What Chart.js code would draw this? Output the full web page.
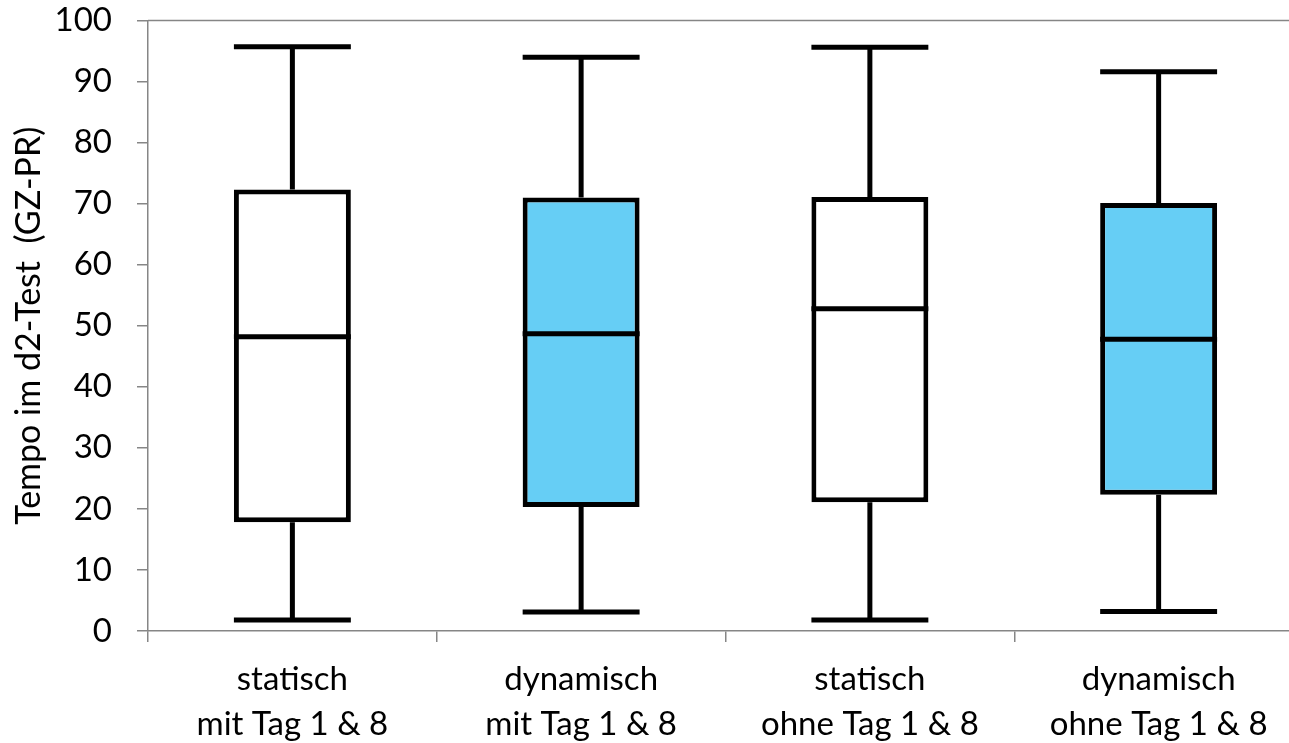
<!DOCTYPE html>
<html>
<head>
<meta charset="utf-8">
<script src="https://cdn.jsdelivr.net/npm/chart.js@4.4.1/dist/chart.umd.min.js"></script>
<style>
  html, body { margin: 0; padding: 0; background: #fff; overflow: hidden; }
  #wrap { position: relative; width: 1310px; height: 743px; }
</style>
</head>
<body>
<div id="wrap"><canvas id="grafico"></canvas></div>
<script>
// Daten
var kategorien = [
    ['statisch', 'mit Tag 1 & 8'],
    ['dynamisch', 'mit Tag 1 & 8'],
    ['statisch', 'ohne Tag 1 & 8'],
    ['dynamisch', 'ohne Tag 1 & 8']
];
var minimum = [1.8, 3.1, 1.8, 3.2];
var quartil1 = [17.8, 20.3, 21.1, 22.3];
var median = [48.2, 48.7, 52.8, 47.8];
var quartil3 = [72.3, 71.0, 71.1, 70.1];
var maximum = [95.7, 94.0, 95.6, 91.6];
var farben = ['#FFFFFF', '#66CEF5', '#FFFFFF', '#66CEF5'];
var yMin = 0, yMax = 100, yStep = 10;

var schrift = "Lato, 'Open Sans', sans-serif";
var achsenFarbe = '#868686';
var linie = 5;

// Whisker, Median und Rahmen zeichnen
var boxplotPlugin = {
    id: 'boxplot',
    afterDatasetsDraw: function(chart) {
        var ctx = chart.ctx;
        var x = chart.scales.x;
        var y = chart.scales.y;
        var meta = chart.getDatasetMeta(0);
        ctx.save();
        ctx.strokeStyle = '#000';
        ctx.lineWidth = linie;
        ctx.lineCap = 'butt';
        for (var i = 0; i < kategorien.length; i++) {
            var cx = x.getPixelForValue(i);
            var halb = meta.data[i].width / 2;
            ctx.beginPath();
            // oberer Whisker
            ctx.moveTo(cx, y.getPixelForValue(quartil3[i]));
            ctx.lineTo(cx, y.getPixelForValue(maximum[i]));
            ctx.moveTo(cx - halb, y.getPixelForValue(maximum[i]));
            ctx.lineTo(cx + halb, y.getPixelForValue(maximum[i]));
            // unterer Whisker
            ctx.moveTo(cx, y.getPixelForValue(quartil1[i]));
            ctx.lineTo(cx, y.getPixelForValue(minimum[i]));
            ctx.moveTo(cx - halb, y.getPixelForValue(minimum[i]));
            ctx.lineTo(cx + halb, y.getPixelForValue(minimum[i]));
            // Median
            ctx.moveTo(cx - halb, y.getPixelForValue(median[i]));
            ctx.lineTo(cx + halb, y.getPixelForValue(median[i]));
            ctx.stroke();
        }
        // oberer Rahmen der Zeichenfläche
        var ca = chart.chartArea;
        ctx.strokeStyle = achsenFarbe;
        ctx.lineWidth = 1.5;
        ctx.beginPath();
        ctx.moveTo(ca.left, ca.top);
        ctx.lineTo(ca.right, ca.top);
        ctx.stroke();
        ctx.restore();
    }
};

var ctx = document.getElementById('grafico').getContext('2d');
var myChart = new Chart(ctx, {
    type: 'bar',
    data: {
        labels: kategorien,
        datasets: [{
            label: 'Box',
            data: quartil1.map(function(q, i) { return [q, quartil3[i]]; }),
            backgroundColor: farben,
            borderColor: '#000',
            borderWidth: linie,
            borderSkipped: false,
            categoryPercentage: 1,
            barPercentage: 0.405
        }]
    },
    options: {
        responsive: true,
        maintainAspectRatio: false,
        animation: false,
        layout: { padding: { top: 0, right: 7, left: 0, bottom: 0 } },
        plugins: {
            legend: { display: false },
            tooltip: { enabled: false }
        },
        scales: {
            x: {
                offset: true,
                grid: {
                    offset: true,
                    drawOnChartArea: false,
                    drawTicks: true,
                    tickLength: 11,
                    color: achsenFarbe,
                    lineWidth: 1.5
                },
                border: { display: true, color: achsenFarbe, width: 1.5 },
                ticks: {
                    color: '#000',
                    padding: 15,
                    maxRotation: 0,
                    font: { family: schrift, size: 33, lineHeight: 1.36 }
                },
                afterFit: function(scale) {
                    scale.height = 112;
                    scale.paddingLeft = 0;
                    scale.paddingRight = 0;
                }
            },
            y: {
                min: yMin,
                max: yMax,
                ticks: {
                    stepSize: yStep,
                    color: '#000',
                    padding: 25,
                    font: { family: schrift, size: 33 }
                },
                grid: {
                    drawOnChartArea: false,
                    drawTicks: true,
                    tickLength: 11,
                    color: achsenFarbe,
                    lineWidth: 1.5
                },
                border: { display: true, color: achsenFarbe, width: 1.5 },
                title: {
                    display: true,
                    text: 'Tempo im d2-Test  (GZ-PR)',
                    color: '#000',
                    padding: { top: 9, bottom: 0 },
                    font: { family: schrift, size: 34 }
                },
                afterFit: function(scale) {
                    scale.width = 148;
                    scale.paddingTop = 20.5;
                    scale.paddingBottom = 0;
                }
            }
        }
    },
    plugins: [boxplotPlugin]
});
</script>
</body>
</html>
